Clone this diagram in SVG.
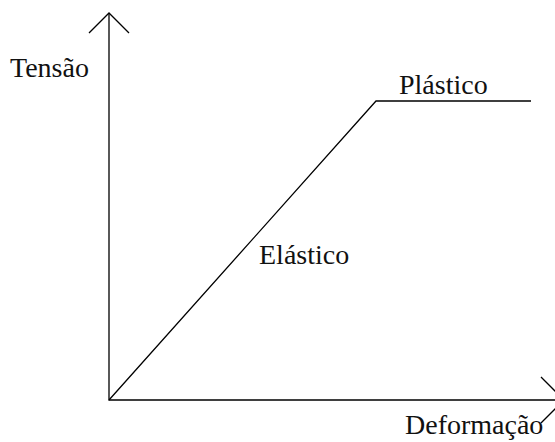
<svg xmlns="http://www.w3.org/2000/svg" width="555" height="442" viewBox="0 0 555 442">
<style>
.ln{stroke:#000;stroke-width:1.3;fill:none}
.t{font-family:"Liberation Serif","Times New Roman",serif;font-size:28px;fill:#111}
</style>
<rect width="555" height="442" fill="#fff"/>
<g id="connectors">
<path class="ln" d="M109,13 V400 H555"/>
<path class="ln" d="M89,33 L109,13 L129,33"/>
<path class="ln" d="M541,377 L564,400 L541,423"/>
<path class="ln" d="M109,400 L376,101 H531"/>
</g>
<g id="tensao"><text class="t" x="10" y="77">Tensão</text></g>
<g id="plastico"><text class="t" x="399" y="94">Plástico</text></g>
<g id="elastico"><text class="t" x="259" y="264">Elástico</text></g>
<g id="deformacao"><text class="t" x="405" y="434">Deformação</text></g>
</svg>
